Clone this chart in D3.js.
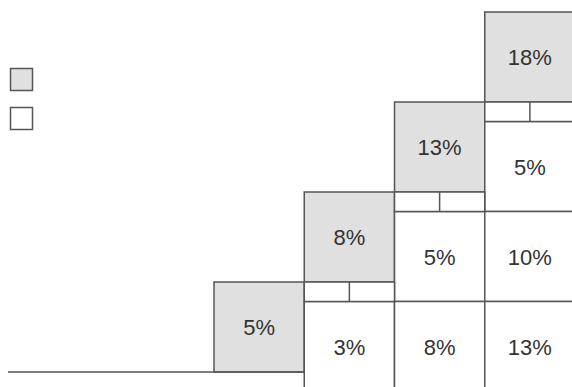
<!DOCTYPE html>
<html>
<head>
<meta charset="utf-8">
<script src="https://cdn.jsdelivr.net/npm/d3@7"></script>
<style>
  html, body { margin: 0; padding: 0; background: #fff; }
  svg { display: block; }
</style>
</head>
<body>
<svg id="chart"></svg>
<script>
// Data
const periods = ["1", "2", "3", "4"];
const topValues = [5, 8, 13, 18];
// lower (white) cells per column, top to bottom
const lowerValues = [[], [3], [5, 8], [5, 10, 13]];
const legendKeys = ["top", "lower"];

const width = 572, height = 387;
const stroke = "#555";
const grayFill = "#e0e0e0";
const strip = 19.5;

const svg = d3.select("#chart")
  .attr("width", width)
  .attr("height", height)
  .style("font-family", "'Liberation Sans', Arial, sans-serif");

const xScale = d3.scaleBand().domain(periods).range([214, 575]);
const levels = d3.range(periods.length);
const yScale = d3.scaleBand().domain(levels).range([12, 372]);
const bw = xScale.bandwidth();
const bh = yScale.bandwidth();

// Build cells
const cells = [];
periods.forEach((p, i) => {
  const topLevel = periods.length - 1 - i;
  cells.push({ p, level: topLevel, value: topValues[i], kind: "top" });
  lowerValues[i].forEach((v, j) => {
    cells.push({ p, level: topLevel + 1 + j, value: v, kind: "lower" });
  });
});

const cellY = d => yScale(d.level) + (d.kind === "lower" ? strip : 0);

// Strips between gray cell and white cells
const strips = periods.filter((p, i) => lowerValues[i].length > 0)
  .map(p => ({ p, level: periods.length - 1 - periods.indexOf(p) }));

const g = svg.append("g");

g.selectAll("rect.cell")
  .data(cells)
  .join("rect")
  .attr("class", "cell")
  .attr("x", d => xScale(d.p))
  .attr("y", cellY)
  .attr("width", bw)
  .attr("height", bh)
  .attr("fill", d => d.kind === "top" ? grayFill : "#fff")
  .attr("stroke", stroke)
  .attr("stroke-width", 1.5);

g.selectAll("rect.strip")
  .data(strips)
  .join("rect")
  .attr("class", "strip")
  .attr("x", d => xScale(d.p))
  .attr("y", d => yScale(d.level) + bh)
  .attr("width", bw)
  .attr("height", strip)
  .attr("fill", "#fff")
  .attr("stroke", stroke)
  .attr("stroke-width", 1.5);

g.selectAll("line.tick")
  .data(strips)
  .join("line")
  .attr("class", "tick")
  .attr("x1", d => xScale(d.p) + bw / 2)
  .attr("x2", d => xScale(d.p) + bw / 2)
  .attr("y1", d => yScale(d.level) + bh)
  .attr("y2", d => yScale(d.level) + bh + strip)
  .attr("stroke", stroke)
  .attr("stroke-width", 1.5);

// Baseline
g.append("line")
  .attr("x1", 8)
  .attr("x2", xScale(periods[1]))
  .attr("y1", yScale(levels[levels.length - 1]) + bh)
  .attr("y2", yScale(levels[levels.length - 1]) + bh)
  .attr("stroke", stroke)
  .attr("stroke-width", 1.5);

// Labels
g.selectAll("text.label")
  .data(cells)
  .join("text")
  .attr("class", "label")
  .attr("x", d => xScale(d.p) + bw / 2)
  .attr("y", d => cellY(d) + bh / 2 + 8)
  .attr("text-anchor", "middle")
  .attr("font-size", 22)
  .attr("fill", "#333")
  .text(d => d.value + "%");

// Legend
svg.append("g").selectAll("rect")
  .data(legendKeys)
  .join("rect")
  .attr("x", 10.5)
  .attr("y", (d, i) => 68.5 + i * 39)
  .attr("width", 22)
  .attr("height", 22)
  .attr("fill", (d, i) => i === 0 ? grayFill : "#fff")
  .attr("stroke", stroke)
  .attr("stroke-width", 1.5);
</script>
</body>
</html>
